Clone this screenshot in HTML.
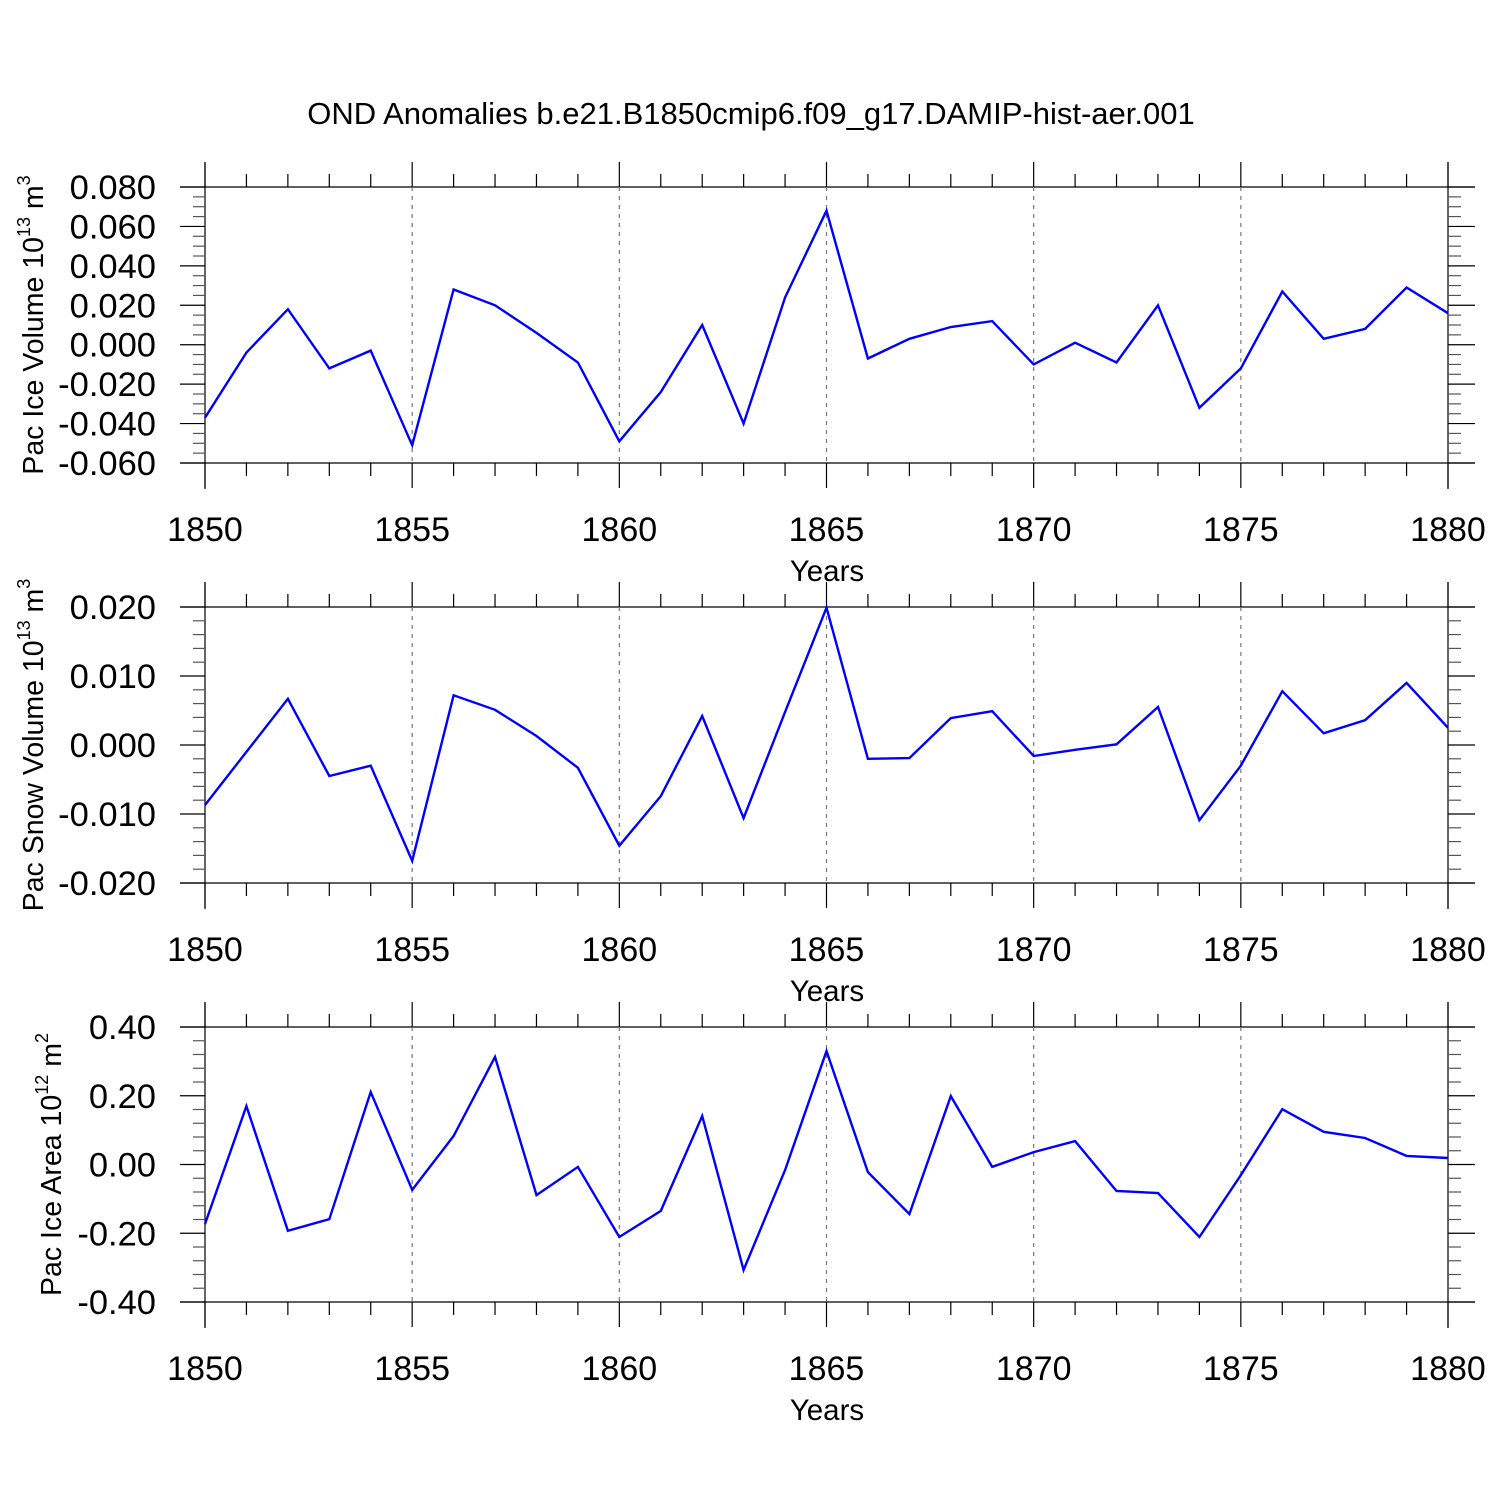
<!DOCTYPE html>
<html><head><meta charset="utf-8"><style>
html,body{margin:0;padding:0;background:#fff;}
svg{display:block;font-family:"Liberation Sans",Helvetica,Arial,sans-serif;}
</style></head><body>
<svg id="chart" width="1500" height="1500" viewBox="0 0 1500 1500" xmlns="http://www.w3.org/2000/svg">
<rect width="1500" height="1500" fill="#fff"/>
<text x="751" y="124" font-size="31" text-anchor="middle">OND Anomalies b.e21.B1850cmip6.f09_g17.DAMIP-hist-aer.001</text>
</svg>
<script>
const years = [];
for (let y = 1850; y <= 1880; y++) years.push(y);
const iceVolume = [-0.037,-0.004,0.018,-0.012,-0.003,-0.051,0.028,0.020,0.006,-0.009,-0.049,-0.024,0.010,-0.040,0.024,0.068,-0.007,0.003,0.009,0.012,-0.010,0.001,-0.009,0.020,-0.032,-0.012,0.027,0.003,0.008,0.029,0.016];
const snowVolume = [-0.0087,-0.001,0.0067,-0.0045,-0.003,-0.0168,0.0072,0.0051,0.0013,-0.0033,-0.0146,-0.0074,0.0042,-0.0106,0.0048,0.0199,-0.002,-0.0019,0.0039,0.0049,-0.0016,-0.0007,0.0001,0.0055,-0.0109,-0.003,0.0078,0.0017,0.0036,0.009,0.0025];
const iceArea = [-0.173,0.170,-0.193,-0.159,0.211,-0.074,0.083,0.313,-0.089,-0.007,-0.211,-0.135,0.141,-0.307,-0.016,0.330,-0.022,-0.144,0.199,-0.007,0.036,0.068,-0.077,-0.083,-0.211,-0.031,0.161,0.095,0.077,0.025,0.019];
const xTickLabels = [1850,1855,1860,1865,1870,1875,1880];
const yTicks1 = [0.08,0.06,0.04,0.02,0,-0.02,-0.04,-0.06];
const yTicks2 = [0.02,0.01,0,-0.01,-0.02];
const yTicks3 = [0.4,0.2,0,-0.2,-0.4];

const NS = "http://www.w3.org/2000/svg";
const svg = document.getElementById('chart');
function el(tag, attrs, parent) {
  const e = document.createElementNS(NS, tag);
  for (const k in attrs) e.setAttribute(k, attrs[k]);
  (parent || svg).appendChild(e);
  return e;
}
const X0 = 205, X1 = 1448, L = 180, R = 1475;
function xs(v) { return X0 + (v - 1850) / 30 * (X1 - X0); }

function panel(name, top, bot, ymax, ymin, ticks, decimals, data, titleParts, nDiv) {
  const g = el('g', {});
  
  
  function ys(v) { return top + (ymax - v) / (ymax - ymin) * (bot - top); }
  const ln = (x1,y1,x2,y2,extra) => el('line', Object.assign({x1,y1,x2,y2,stroke:'#000','stroke-width':1.2}, extra||{}), g);
  ln(L, top, R, top); ln(L, bot, R, bot);
  ln(X0, top-25, X0, bot+26); ln(X1, top-25, X1, bot+26);
  for (const t of xTickLabels) {
    if (t === 1850 || t === 1880) continue;
    const l = ln(xs(t), top, xs(t), bot, {stroke:'#777','stroke-dasharray':'4,5'});
    
    
  }
  for (const yr of years) {
    const major = (yr % 5 === 0);
    const len = major ? 25 : 13;
    ln(xs(yr), top - len, xs(yr), top);
    ln(xs(yr), bot, xs(yr), bot + len);
  }
  const step = (ticks[0] - ticks[1]);
  for (let i = 0; i < ticks.length; i++) {
    const v = ticks[i];
    ln(L, ys(v), X0, ys(v)); ln(X1, ys(v), R, ys(v));
    const t = el('text', {x: 156, y: ys(v) + 12, 'font-size': 34.5, 'text-anchor': 'end'}, g);
    t.textContent = v.toFixed(decimals);
    
    
    if (i < ticks.length - 1) {
      for (let m = 1; m < nDiv; m++) {
        const mv = v - step * m / nDiv;
        ln(193, ys(mv), X0, ys(mv), {stroke:'#555'}); ln(X1, ys(mv), 1461, ys(mv), {stroke:'#555'});
      }
    }
  }
  for (const t of xTickLabels) {
    const tx = el('text', {x: xs(t), y: bot + 78, 'font-size': 34, 'text-anchor': 'middle'}, g);
    tx.textContent = t;
    
    
  }
  const xt = el('text', {x: 827, y: bot + 118, 'font-size': 29.5, 'text-anchor': 'middle'}, g);
  xt.textContent = 'Years';
  
  
  const cy = (top + bot) / 2;
  const yt = el('text', {x: 0, y: 0, 'font-size': 28.5, 'text-anchor': 'middle', transform: `translate(${titleParts.x},${cy}) rotate(-90)`}, g);
  
  
  const s1 = el('tspan', {}, yt); s1.textContent = titleParts.a;
  const s2 = el('tspan', {'font-size': 18, dy: -13}, yt); s2.textContent = titleParts.e1;
  const s3 = el('tspan', {dy: 13}, yt); s3.textContent = ' m';
  const s4 = el('tspan', {'font-size': 18, dy: -13}, yt); s4.textContent = titleParts.e2;
  const pts = data.map((v, i) => xs(years[i]).toFixed(1) + ',' + ys(v).toFixed(1)).join(' ');
  const pl = el('polyline', {points: pts, fill: 'none', stroke: '#0000ff', 'stroke-width': 2.4, 'stroke-linejoin': 'miter'}, g);
  
  
}
panel('ice-volume', 187, 463, 0.08, -0.06, yTicks1, 3, iceVolume, {x: 43, a: 'Pac Ice Volume 10', e1: '13', e2: '3'}, 4);
panel('snow-volume', 607, 883, 0.02, -0.02, yTicks2, 3, snowVolume, {x: 43, a: 'Pac Snow Volume 10', e1: '13', e2: '3'}, 5);
panel('ice-area', 1027, 1302, 0.4, -0.4, yTicks3, 2, iceArea, {x: 61, a: 'Pac Ice Area 10', e1: '12', e2: '2'}, 5);
</script>
</body></html>
